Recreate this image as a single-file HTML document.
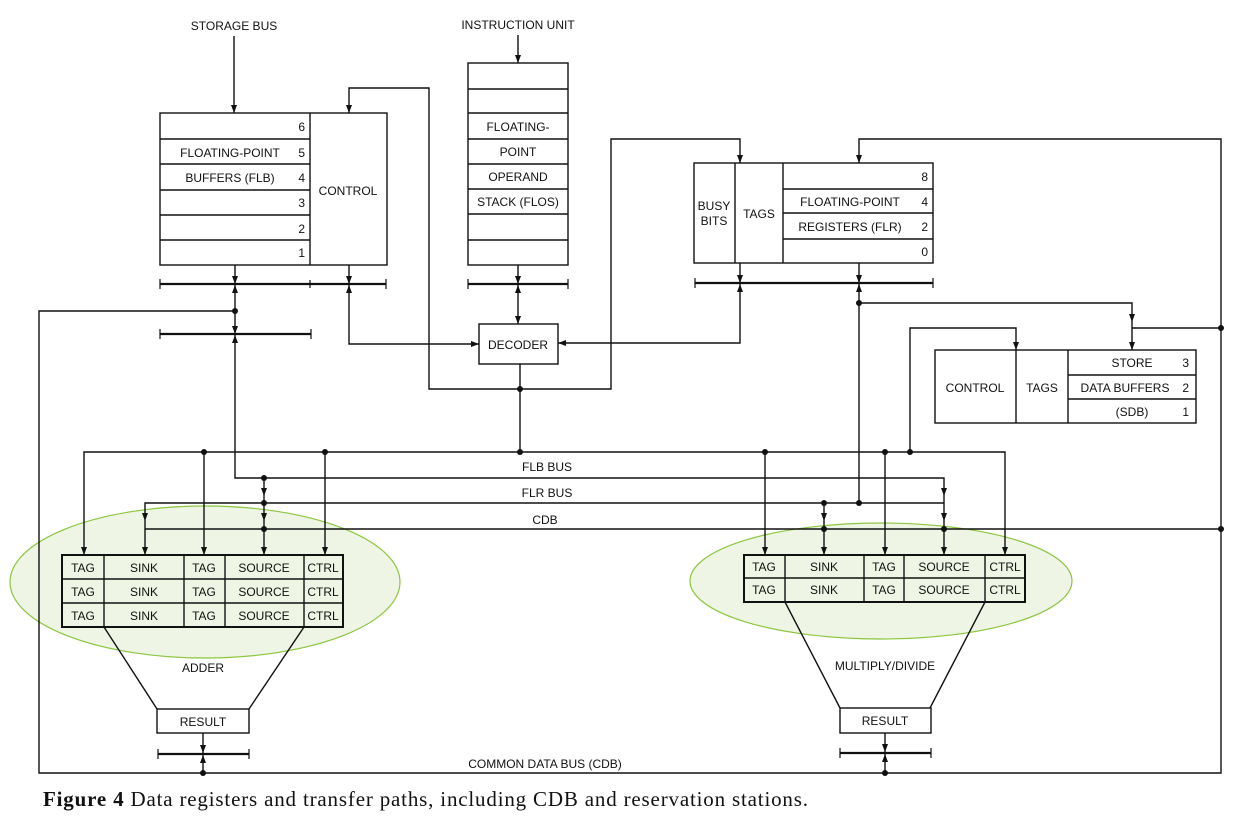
<!DOCTYPE html>
<html><head><meta charset="utf-8"><style>
html,body{margin:0;padding:0;background:#fff;}
svg{display:block}
text{font-family:"Liberation Sans",sans-serif;font-size:12px;fill:#111;}
</style></head><body>
<svg width="1252" height="824" viewBox="0 0 1252 824" xmlns="http://www.w3.org/2000/svg">
<ellipse cx="205" cy="582" rx="195" ry="76" fill="#eef5e4" stroke="#8cc63f" stroke-width="1.2"/>
<ellipse cx="881" cy="581" rx="191" ry="58" fill="#eef5e4" stroke="#8cc63f" stroke-width="1.2"/>

<g stroke="#111" stroke-width="1.4" fill="none">
<rect x="160" y="113" width="227" height="152"/>
<line x1="310" y1="113" x2="310" y2="265"/>
<line x1="160" y1="139" x2="310" y2="139"/><line x1="160" y1="164" x2="310" y2="164"/><line x1="160" y1="190" x2="310" y2="190"/><line x1="160" y1="215" x2="310" y2="215"/><line x1="160" y1="240" x2="310" y2="240"/>
<rect x="468" y="63" width="100" height="202"/>
<line x1="468" y1="89" x2="568" y2="89"/><line x1="468" y1="113" x2="568" y2="113"/><line x1="468" y1="139" x2="568" y2="139"/><line x1="468" y1="164" x2="568" y2="164"/><line x1="468" y1="189" x2="568" y2="189"/><line x1="468" y1="214" x2="568" y2="214"/><line x1="468" y1="240" x2="568" y2="240"/>
<rect x="694" y="163" width="239" height="100"/>
<line x1="735" y1="163" x2="735" y2="263"/><line x1="783" y1="163" x2="783" y2="263"/>
<line x1="783" y1="189" x2="933" y2="189"/><line x1="783" y1="213" x2="933" y2="213"/><line x1="783" y1="239" x2="933" y2="239"/>
<rect x="935" y="350" width="261" height="73"/>
<line x1="1016" y1="350" x2="1016" y2="423"/><line x1="1068" y1="350" x2="1068" y2="423"/>
<line x1="1068" y1="375" x2="1196" y2="375"/><line x1="1068" y1="399" x2="1196" y2="399"/>
<rect x="479" y="324" width="79" height="40"/>
<rect x="62" y="555" width="281" height="72" stroke-width="2"/>
<line x1="104" y1="555" x2="104" y2="627"/><line x1="184" y1="555" x2="184" y2="627"/><line x1="225" y1="555" x2="225" y2="627"/><line x1="304" y1="555" x2="304" y2="627"/>
<line x1="62" y1="579" x2="343" y2="579"/><line x1="62" y1="603" x2="343" y2="603"/>
<polyline points="104,627 157,709"/><polyline points="304,627 249,709"/>
<rect x="157" y="709" width="92" height="24"/>
<rect x="744" y="555" width="281" height="47" stroke-width="2"/>
<line x1="785" y1="555" x2="785" y2="602"/><line x1="864" y1="555" x2="864" y2="602"/><line x1="904" y1="555" x2="904" y2="602"/><line x1="985" y1="555" x2="985" y2="602"/>
<line x1="744" y1="578" x2="1025" y2="578"/>
<polyline points="785,602 840,708"/><polyline points="985,602 930,708"/>
<rect x="840" y="708" width="91" height="25"/>

<line x1="234" y1="36" x2="234" y2="113"/>
<line x1="518" y1="35" x2="518" y2="63"/>
<path d="M349,113 V88 H429 V389 H611 V139 H740 V163"/>
<path d="M859,163 V139 H1221 V773 H39 V311 H235"/>
<path d="M235,265 V478 H944 V555"/>
<path d="M349,265 V344 H479"/>
<line x1="518" y1="265" x2="518" y2="324"/>
<path d="M740,263 V343 H558"/>
<path d="M859,263 V503"/>
<path d="M859,303 H1132 V350"/>
<line x1="1132" y1="328" x2="1221" y2="328"/>
<path d="M910,452 V328 H1016 V350"/>
<line x1="520" y1="364" x2="520" y2="452"/>
<path d="M84,555 V452 H1005 V555"/>
<line x1="204" y1="452" x2="204" y2="555"/><line x1="325" y1="452" x2="325" y2="555"/>
<line x1="765" y1="452" x2="765" y2="555"/><line x1="885" y1="452" x2="885" y2="555"/>
<line x1="264" y1="478" x2="264" y2="555"/>
<path d="M145,555 V503 H944"/>
<line x1="824" y1="503" x2="824" y2="555"/>
<line x1="145" y1="529" x2="1221" y2="529"/>
<line x1="203" y1="733" x2="203" y2="773"/><line x1="885" y1="733" x2="885" y2="773"/>
</g>
<g stroke="#111" stroke-width="2.2">
<line x1="160" y1="284" x2="386" y2="284"/><line x1="160" y1="334" x2="311" y2="334"/>
<line x1="468" y1="284" x2="568" y2="284"/><line x1="695" y1="283" x2="933" y2="283"/>
<line x1="158" y1="754" x2="249" y2="754"/><line x1="840" y1="753" x2="931" y2="753"/>
</g>
<g stroke="#111" stroke-width="1.2">
<line x1="160" y1="279" x2="160" y2="289"/><line x1="386" y1="279" x2="386" y2="289"/><line x1="310" y1="280" x2="310" y2="288"/>
<line x1="160" y1="329" x2="160" y2="339"/><line x1="311" y1="329" x2="311" y2="339"/>
<line x1="468" y1="279" x2="468" y2="289"/><line x1="568" y1="279" x2="568" y2="289"/>
<line x1="695" y1="278" x2="695" y2="288"/><line x1="933" y1="278" x2="933" y2="288"/>
<line x1="158" y1="749" x2="158" y2="759"/><line x1="249" y1="749" x2="249" y2="759"/>
<line x1="840" y1="748" x2="840" y2="758"/><line x1="931" y1="748" x2="931" y2="758"/>
</g>
<g fill="#111">
<polygon points="231,105 237,105 234,113"/><polygon points="515,55 521,55 518,63"/><polygon points="346,105 352,105 349,113"/>
<polygon points="737,155 743,155 740,163"/><polygon points="856,155 862,155 859,163"/>
<polygon points="232,276 238,276 235,284"/><polygon points="346,276 352,276 349,284"/><polygon points="515,276 521,276 518,284"/>
<polygon points="737,275 743,275 740,283"/><polygon points="856,275 862,275 859,283"/>
<polygon points="232,326 238,326 235,334"/><polygon points="515,316 521,316 518,324"/>
<polygon points="1129,314 1135,314 1132,322"/><polygon points="1129,342 1135,342 1132,350"/><polygon points="1013,342 1019,342 1016,350"/>
<polygon points="81,547 87,547 84,555"/><polygon points="142,513 148,513 145,521"/><polygon points="142,547 148,547 145,555"/>
<polygon points="201,547 207,547 204,555"/><polygon points="261,488 267,488 264,496"/><polygon points="261,513 267,513 264,521"/><polygon points="261,547 267,547 264,555"/><polygon points="322,547 328,547 325,555"/>
<polygon points="762,547 768,547 765,555"/><polygon points="821,513 827,513 824,521"/><polygon points="821,547 827,547 824,555"/><polygon points="882,547 888,547 885,555"/>
<polygon points="941,488 947,488 944,496"/><polygon points="941,513 947,513 944,521"/><polygon points="941,547 947,547 944,555"/><polygon points="1002,547 1008,547 1005,555"/>
<polygon points="200,745 206,745 203,753"/><polygon points="882,744 888,744 885,752"/>
<polygon points="232,293 238,293 235,285"/><polygon points="346,293 352,293 349,285"/><polygon points="515,293 521,293 518,285"/>
<polygon points="737,292 743,292 740,284"/><polygon points="856,292 862,292 859,284"/><polygon points="232,343 238,343 235,335"/>
<polygon points="200,763 206,763 203,755"/><polygon points="882,762 888,762 885,754"/>
<polygon points="471,341 471,347 479,344"/><polygon points="566,340 566,346 558,343"/>
<circle cx="235" cy="311" r="3"/><circle cx="859" cy="303" r="3"/>
<circle cx="204" cy="452" r="3"/><circle cx="325" cy="452" r="3"/><circle cx="520" cy="452" r="3"/><circle cx="765" cy="452" r="3"/><circle cx="885" cy="452" r="3"/><circle cx="910" cy="452" r="3"/>
<circle cx="520" cy="389" r="3"/>
<circle cx="264" cy="478" r="3"/><circle cx="264" cy="503" r="3"/><circle cx="264" cy="529" r="3"/>
<circle cx="824" cy="503" r="3"/><circle cx="859" cy="503" r="3"/><circle cx="824" cy="529" r="3"/><circle cx="944" cy="529" r="3"/>
<circle cx="1221" cy="328" r="3"/><circle cx="1221" cy="529" r="3"/>
<circle cx="203" cy="773" r="3"/><circle cx="885" cy="773" r="3"/>
</g>

<g>
<text x="234" y="30" text-anchor="middle">STORAGE BUS</text>
<text x="518" y="29" text-anchor="middle">INSTRUCTION UNIT</text>
<text x="305" y="131" text-anchor="end">6</text>
<text x="305" y="157" text-anchor="end">5</text>
<text x="305" y="182" text-anchor="end">4</text>
<text x="305" y="207" text-anchor="end">3</text>
<text x="305" y="233" text-anchor="end">2</text>
<text x="305" y="257" text-anchor="end">1</text>
<text x="230" y="157" text-anchor="middle">FLOATING-POINT</text>
<text x="230" y="182" text-anchor="middle">BUFFERS (FLB)</text>
<text x="348" y="195" text-anchor="middle">CONTROL</text>
<text x="518" y="131" text-anchor="middle">FLOATING-</text>
<text x="518" y="156" text-anchor="middle">POINT</text>
<text x="518" y="181" text-anchor="middle">OPERAND</text>
<text x="518" y="206" text-anchor="middle">STACK (FLOS)</text>
<text x="714" y="210" text-anchor="middle">BUSY</text>
<text x="714" y="225" text-anchor="middle">BITS</text>
<text x="759" y="218" text-anchor="middle">TAGS</text>
<text x="928" y="181" text-anchor="end">8</text>
<text x="928" y="206" text-anchor="end">4</text>
<text x="928" y="231" text-anchor="end">2</text>
<text x="928" y="256" text-anchor="end">0</text>
<text x="850" y="206" text-anchor="middle">FLOATING-POINT</text>
<text x="850" y="231" text-anchor="middle">REGISTERS (FLR)</text>
<text x="518" y="349" text-anchor="middle">DECODER</text>
<text x="975" y="392" text-anchor="middle">CONTROL</text>
<text x="1042" y="392" text-anchor="middle">TAGS</text>
<text x="1132" y="367" text-anchor="middle">STORE</text>
<text x="1189" y="367" text-anchor="end">3</text>
<text x="1125" y="392" text-anchor="middle">DATA BUFFERS</text>
<text x="1189" y="392" text-anchor="end">2</text>
<text x="1132" y="416" text-anchor="middle">(SDB)</text>
<text x="1189" y="416" text-anchor="end">1</text>
<text x="547" y="471" text-anchor="middle">FLB BUS</text>
<text x="547" y="497" text-anchor="middle">FLR BUS</text>
<text x="545" y="524" text-anchor="middle">CDB</text>
<g text-anchor="middle">
<text x="83" y="572">TAG</text><text x="144" y="572">SINK</text><text x="204" y="572">TAG</text><text x="264" y="572">SOURCE</text><text x="323" y="572">CTRL</text>
<text x="83" y="596">TAG</text><text x="144" y="596">SINK</text><text x="204" y="596">TAG</text><text x="264" y="596">SOURCE</text><text x="323" y="596">CTRL</text>
<text x="83" y="620">TAG</text><text x="144" y="620">SINK</text><text x="204" y="620">TAG</text><text x="264" y="620">SOURCE</text><text x="323" y="620">CTRL</text>
<text x="764" y="571">TAG</text><text x="824" y="571">SINK</text><text x="884" y="571">TAG</text><text x="944" y="571">SOURCE</text><text x="1005" y="571">CTRL</text>
<text x="764" y="594">TAG</text><text x="824" y="594">SINK</text><text x="884" y="594">TAG</text><text x="944" y="594">SOURCE</text><text x="1005" y="594">CTRL</text>
<text x="203" y="672">ADDER</text>
<text x="885" y="670">MULTIPLY/DIVIDE</text>
<text x="203" y="726">RESULT</text>
<text x="885" y="725">RESULT</text>
<text x="545" y="768">COMMON DATA BUS (CDB)</text>
</g>
<text x="43" y="806" textLength="765" lengthAdjust="spacing" style="font-family:'Liberation Serif',serif;font-size:21px"><tspan font-weight="bold">Figure 4</tspan> Data registers and transfer paths, including CDB and reservation stations.</text>
</g>
</svg>
</body></html>
